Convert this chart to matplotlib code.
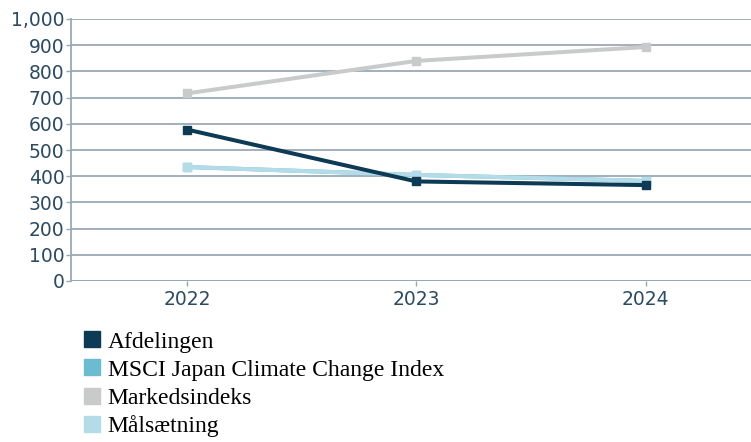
import numpy as np
import matplotlib.pyplot as plt
from matplotlib.lines import Line2D

years = [2022, 2023, 2024]
afdelingen = [578, 380, 366]
msci = [435, 405, 382]
markedsindeks = [716, 840, 893]
maalsaetning = [435, 405, 382]

labels = ['Afdelingen', 'MSCI Japan Climate Change Index', 'Markedsindeks', 'Målsætning']
colors = ['#0d3a55', '#6bbcd1', '#c9cbcb', '#b3dce8']

fig = plt.figure(figsize=(7.51, 4.42), dpi=100)
ax = fig.add_axes([71 / 751, 1 - 281 / 442, 1 - 71 / 751, 262 / 442])

series = [msci, maalsaetning, markedsindeks, afdelingen]
cols = [colors[1], colors[3], colors[2], colors[0]]
for vals, c in zip(series, cols):
    ax.plot(years, vals, color=c, linewidth=2.9, marker='s', markersize=6,
            solid_capstyle='butt')

ax.set_ylim(0, 1000)
ax.set_xlim(2021.494, 2024.46)
ax.set_yticks(np.arange(0, 1001, 100))
ax.set_yticklabels([f'{v:,}' for v in range(0, 1001, 100)])
ax.set_xticks(years)
ax.yaxis.grid(True, color='#98a9b6', linewidth=1.3)
ax.set_axisbelow(True)
for s in ['top', 'right', 'bottom']:
    ax.spines[s].set_visible(False)
ax.spines['left'].set_color('#98a9b6')
ax.spines['left'].set_linewidth(1.3)
ax.axhline(0, color='#98a9b6', linewidth=1.3, zorder=0)
ax.tick_params(axis='both', colors='#98a9b6', labelcolor='#2b4a63',
               labelsize=13.5, length=3.6, width=1)
ax.tick_params(axis='y', pad=1)
ax.tick_params(axis='x', pad=3)

handles = [Line2D([], [], linestyle='none', marker='s', markersize=11.5,
                  markerfacecolor=c, markeredgecolor=c) for c in colors]
fig.legend(handles, labels, loc='upper left', bbox_to_anchor=(84 / 751, 1 - 331 / 442),
           frameon=False, prop={'family': 'Liberation Serif', 'size': 17},
           handlelength=0.7, handletextpad=0.3, labelspacing=0.28,
           borderaxespad=0, borderpad=0)

fig.savefig('out.png', dpi=100)
